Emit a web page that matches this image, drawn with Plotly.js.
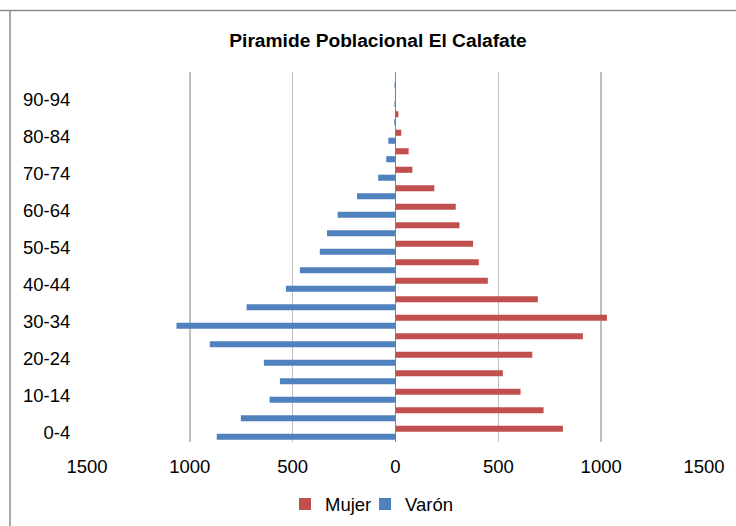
<!DOCTYPE html>
<html>
<head>
<meta charset="utf-8">
<script src="https://cdn.plot.ly/plotly-3.0.1.min.js"></script>
<style>html,body{margin:0;padding:0;background:#fff;}#chart{width:736px;height:526px;}</style>
</head>
<body>
<div id="chart"></div>
<script>
const categories = ['0-4','5-9','10-14','15-19','20-24','25-29','30-34','35-39','40-44','45-49','50-54','55-59','60-64','65-69','70-74','75-79','80-84','85-89','90-94','95-99'];
const mujer = [814,720,608,522,665,911,1028,692,449,405,377,311,293,189,82,64,28,14,2,0];
const varon = [869,752,612,562,640,903,1065,724,533,465,368,333,281,187,84,45,35,6,5,5];
const xTickVals = [-1500,-1000,-500,0,500,1000,1500];
const xTickText = ['1500','1000','500','0','500','1000','1500'];
const yTickVals = categories.filter((c,i)=>i%2===0);

const FONT = 'Liberation Sans, Arial, sans-serif';

const traces = [
  {
    type:'bar', orientation:'h', name:'Mujer', legend:'legend',
    y: categories, x: mujer,
    width: 0.33, offset: 0.05,
    marker:{color:'#C0504D'},
    hoverinfo:'y+x'
  },
  {
    type:'bar', orientation:'h', name:'Varón', legend:'legend2',
    y: categories, x: varon.map(v=>-v),
    width: 0.33, offset: -0.38,
    marker:{color:'#4F81BD'},
    hoverinfo:'y+x'
  }
];

const legendBase = {orientation:'h', y:-0.169, yanchor:'middle', xanchor:'left',
  font:{family:FONT, size:18.5, color:'#000'}, itemwidth:30, bgcolor:'rgba(0,0,0,0)'};

const layout = {
  width:736, height:526,
  margin:{l:87, r:32, t:72, b:83.5, pad:0, autoexpand:false},
  paper_bgcolor:'#fff', plot_bgcolor:'#fff',
  font:{family:FONT, size:18.5, color:'#000'},
  title:{text:'<b>Piramide Poblacional El Calafate</b>', font:{family:FONT, size:19.2, color:'#000'},
         x:0.5136, xref:'container', xanchor:'center', y:0.924, yref:'container', yanchor:'middle'},
  barmode:'overlay',
  showlegend:true,
  legend: Object.assign({}, legendBase, {x:0.3209}),
  legend2: Object.assign({}, legendBase, {x:0.4506}),
  xaxis:{
    range:[-1500,1500], tickvals:xTickVals, ticktext:xTickText,
    showgrid:true, gridcolor:'#BFBFBF', gridwidth:1.5,
    zeroline:true, zerolinecolor:'#868686', zerolinewidth:1.5,
    showline:false, ticks:'outside', ticklen:8, tickcolor:'rgba(0,0,0,0)',
    tickfont:{family:FONT, size:18.5, color:'#000'}, fixedrange:true
  },
  yaxis:{
    type:'category', categoryorder:'array', categoryarray:categories,
    range:[-0.5,19.5], tickvals:yTickVals, ticktext:yTickVals,
    showgrid:false, zeroline:false, showline:false,
    ticks:'outside', ticklen:12, tickcolor:'rgba(0,0,0,0)',
    tickfont:{family:FONT, size:18.5, color:'#000'}, fixedrange:true
  },
  shapes:[
    {type:'line', xref:'paper', yref:'paper', x0:-0.1420, x1:1.06, y0:1.1660, y1:1.1660,
     line:{color:'#8C8C8C', width:1.5}},
    {type:'line', xref:'paper', yref:'paper', x0:-0.1248, x1:-0.1248, y0:1.1660, y1:-0.23,
     line:{color:'#8C8C8C', width:1.5}}
  ]
};

Plotly.newPlot('chart', traces, layout, {displayModeBar:false, staticPlot:true});
</script>
</body>
</html>
